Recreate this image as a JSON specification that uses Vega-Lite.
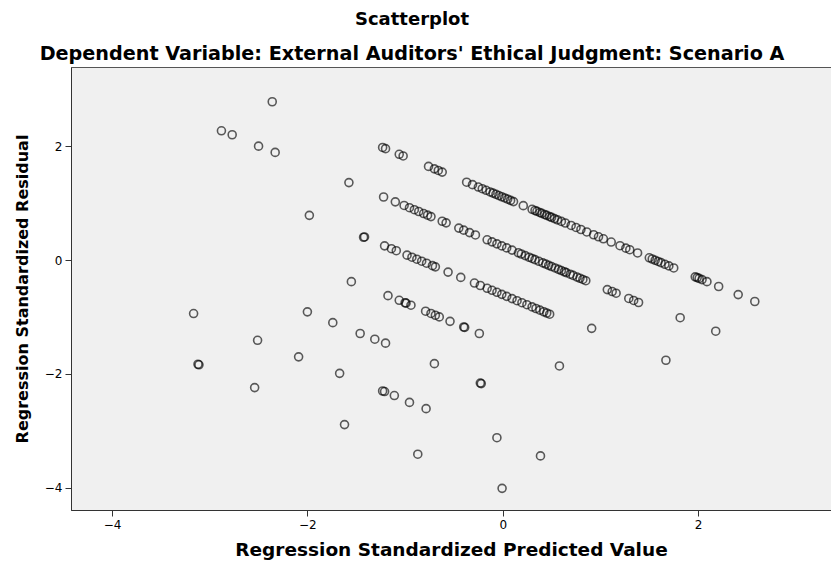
{
  "$schema": "https://vega.github.io/schema/vega-lite/v6.json",
  "width": 760,
  "height": 443,
  "autosize": {"type": "none"},
  "padding": {"left": 71, "top": 67, "right": 0, "bottom": 59},
  "background": "white",
  "title": {
    "text": "Scatterplot",
    "subtitle": "Dependent Variable: External Auditors' Ethical Judgment: Scenario A",
    "font": "DejaVu Sans",
    "fontSize": 18,
    "fontWeight": "bold",
    "color": "#000000",
    "subtitleFont": "DejaVu Sans",
    "subtitleFontSize": 19.2,
    "subtitleFontWeight": "bold",
    "subtitleColor": "#000000",
    "subtitlePadding": 16,
    "offset": 3,
    "anchor": "middle",
    "dx": -39
  },
  "config": {
    "view": {"fill": "#f0f0f0", "stroke": "#555555", "strokeWidth": 1},
    "axis": {
      "labelFont": "DejaVu Sans",
      "labelFontSize": 12,
      "labelColor": "#000000",
      "titleFont": "DejaVu Sans",
      "titleFontWeight": "bold",
      "titleColor": "#000000",
      "domainColor": "#333333",
      "tickColor": "#333333",
      "tickSize": 6,
      "grid": false
    }
  },
  "data": {
    "values": [
      {"x": -2.36, "y": 2.78}, {"x": -1.23, "y": 1.977}, {"x": -1.2, "y": 1.956}, {"x": -1.06, "y": 1.857}, {"x": -1.02, "y": 1.828},
      {"x": -0.76, "y": 1.644}, {"x": -0.7, "y": 1.601}, {"x": -0.66, "y": 1.573}, {"x": -0.62, "y": 1.544},
      {"x": -0.37, "y": 1.367}, {"x": -0.31, "y": 1.324}, {"x": -0.25, "y": 1.282}, {"x": -0.21, "y": 1.253}, {"x": -0.17, "y": 1.225},
      {"x": -0.13, "y": 1.196}, {"x": -0.1, "y": 1.175}, {"x": -0.07, "y": 1.154}, {"x": -0.04, "y": 1.132}, {"x": -0.01, "y": 1.111},
      {"x": 0.02, "y": 1.09}, {"x": 0.05, "y": 1.069}, {"x": 0.08, "y": 1.047}, {"x": 0.11, "y": 1.026}, {"x": 0.21, "y": 0.955},
      {"x": 0.3, "y": 0.891}, {"x": 0.33, "y": 0.87}, {"x": 0.35, "y": 0.856}, {"x": 0.38, "y": 0.834}, {"x": 0.4, "y": 0.82},
      {"x": 0.43, "y": 0.799}, {"x": 0.45, "y": 0.785}, {"x": 0.48, "y": 0.763}, {"x": 0.5, "y": 0.749}, {"x": 0.53, "y": 0.728},
      {"x": 0.56, "y": 0.706}, {"x": 0.6, "y": 0.678}, {"x": 0.64, "y": 0.65}, {"x": 0.7, "y": 0.607}, {"x": 0.75, "y": 0.572},
      {"x": 0.8, "y": 0.536}, {"x": 0.86, "y": 0.493}, {"x": 0.93, "y": 0.444}, {"x": 0.98, "y": 0.408}, {"x": 1.03, "y": 0.373},
      {"x": 1.11, "y": 0.316}, {"x": 1.2, "y": 0.252}, {"x": 1.26, "y": 0.209}, {"x": 1.3, "y": 0.181}, {"x": 1.38, "y": 0.124},
      {"x": 1.5, "y": 0.039}, {"x": 1.53, "y": 0.018}, {"x": 1.56, "y": -0.004}, {"x": 1.59, "y": -0.025}, {"x": 1.62, "y": -0.046},
      {"x": 1.66, "y": -0.075}, {"x": 1.7, "y": -0.103}, {"x": 1.75, "y": -0.139}, {"x": 1.97, "y": -0.295}, {"x": 1.99, "y": -0.309},
      {"x": 2.01, "y": -0.323}, {"x": 2.04, "y": -0.344}, {"x": 2.09, "y": -0.38}, {"x": 2.21, "y": -0.465}, {"x": 2.41, "y": -0.607},
      {"x": 2.58, "y": -0.728},

      {"x": -2.88, "y": 2.27}, {"x": -2.77, "y": 2.2}, {"x": -2.5, "y": 2.0}, {"x": -2.33, "y": 1.89}, {"x": -1.575, "y": 1.36},
      {"x": -1.22, "y": 1.107}, {"x": -1.1, "y": 1.022}, {"x": -1.01, "y": 0.958}, {"x": -0.955, "y": 0.919}, {"x": -0.905, "y": 0.884},
      {"x": -0.86, "y": 0.852}, {"x": -0.81, "y": 0.816}, {"x": -0.77, "y": 0.788}, {"x": -0.735, "y": 0.763}, {"x": -0.62, "y": 0.681},
      {"x": -0.58, "y": 0.653}, {"x": -0.45, "y": 0.561}, {"x": -0.4, "y": 0.525}, {"x": -0.34, "y": 0.482}, {"x": -0.28, "y": 0.44},
      {"x": -0.16, "y": 0.355}, {"x": -0.11, "y": 0.319}, {"x": -0.06, "y": 0.284}, {"x": -0.01, "y": 0.248}, {"x": 0.04, "y": 0.213},
      {"x": 0.095, "y": 0.174}, {"x": 0.16, "y": 0.127}, {"x": 0.19, "y": 0.106}, {"x": 0.23, "y": 0.078}, {"x": 0.27, "y": 0.049},
      {"x": 0.3, "y": 0.028}, {"x": 0.33, "y": 0.007}, {"x": 0.37, "y": -0.022}, {"x": 0.41, "y": -0.05}, {"x": 0.44, "y": -0.071},
      {"x": 0.47, "y": -0.093}, {"x": 0.5, "y": -0.114}, {"x": 0.535, "y": -0.139}, {"x": 0.57, "y": -0.164}, {"x": 0.6, "y": -0.185},
      {"x": 0.63, "y": -0.206}, {"x": 0.65, "y": -0.221}, {"x": 0.69, "y": -0.249}, {"x": 0.72, "y": -0.27}, {"x": 0.76, "y": -0.299},
      {"x": 0.79, "y": -0.32}, {"x": 0.82, "y": -0.341}, {"x": 0.85, "y": -0.363}, {"x": 1.07, "y": -0.519}, {"x": 1.12, "y": -0.554},
      {"x": 1.16, "y": -0.583}, {"x": 1.29, "y": -0.675}, {"x": 1.34, "y": -0.71}, {"x": 1.39, "y": -0.746},
      {"x": 1.816, "y": -1.013}, {"x": 2.18, "y": -1.25},

      {"x": -1.98, "y": 0.785}, {"x": -1.425, "y": 0.4}, {"x": -1.415, "y": 0.405},
      {"x": -1.21, "y": 0.249}, {"x": -1.14, "y": 0.199}, {"x": -1.09, "y": 0.164}, {"x": -0.98, "y": 0.086}, {"x": -0.93, "y": 0.05},
      {"x": -0.88, "y": 0.015}, {"x": -0.83, "y": -0.021}, {"x": -0.78, "y": -0.056}, {"x": -0.72, "y": -0.099}, {"x": -0.69, "y": -0.12},
      {"x": -0.56, "y": -0.212}, {"x": -0.43, "y": -0.305}, {"x": -0.29, "y": -0.404}, {"x": -0.23, "y": -0.447}, {"x": -0.16, "y": -0.496},
      {"x": -0.11, "y": -0.532}, {"x": -0.06, "y": -0.567}, {"x": -0.01, "y": -0.603}, {"x": 0.04, "y": -0.638}, {"x": 0.095, "y": -0.677},
      {"x": 0.146, "y": -0.714}, {"x": 0.196, "y": -0.749}, {"x": 0.247, "y": -0.785}, {"x": 0.3, "y": -0.823}, {"x": 0.34, "y": -0.851},
      {"x": 0.38, "y": -0.88}, {"x": 0.42, "y": -0.908}, {"x": 0.45, "y": -0.93}, {"x": 0.48, "y": -0.951},
      {"x": 0.91, "y": -1.2}, {"x": 1.67, "y": -1.76},

      {"x": -1.55, "y": -0.38}, {"x": -1.175, "y": -0.626}, {"x": -1.06, "y": -0.707}, {"x": -1.0, "y": -0.75}, {"x": -0.99, "y": -0.757},
      {"x": -0.94, "y": -0.793}, {"x": -0.79, "y": -0.899}, {"x": -0.735, "y": -0.938}, {"x": -0.69, "y": -0.97}, {"x": -0.65, "y": -0.999},
      {"x": -0.54, "y": -1.077}, {"x": -0.4, "y": -1.176}, {"x": -0.39, "y": -1.183}, {"x": -0.24, "y": -1.29}, {"x": 0.58, "y": -1.86},

      {"x": -2.0, "y": -0.91}, {"x": -1.74, "y": -1.1}, {"x": -1.46, "y": -1.29}, {"x": -1.31, "y": -1.39}, {"x": -1.2, "y": -1.46},
      {"x": -0.7, "y": -1.82}, {"x": -0.23, "y": -2.16}, {"x": -0.22, "y": -2.17},

      {"x": -3.165, "y": -0.94}, {"x": -2.51, "y": -1.41}, {"x": -2.09, "y": -1.7}, {"x": -1.67, "y": -1.99}, {"x": -1.23, "y": -2.3},
      {"x": -1.21, "y": -2.31}, {"x": -1.11, "y": -2.38}, {"x": -0.955, "y": -2.5}, {"x": -0.785, "y": -2.61}, {"x": -0.06, "y": -3.12},
      {"x": 0.386, "y": -3.44},

      {"x": -3.12, "y": -1.83}, {"x": -3.11, "y": -1.84}, {"x": -2.54, "y": -2.24}, {"x": -1.62, "y": -2.89}, {"x": -0.87, "y": -3.41},
      {"x": -0.007, "y": -4.01}
    ]
  },
  "mark": {"type": "point", "shape": "circle", "filled": false, "size": 64, "stroke": "#000000", "strokeWidth": 1.6, "strokeOpacity": 0.9, "clip": true},
  "encoding": {
    "x": {
      "field": "x", "type": "quantitative",
      "scale": {"domain": [-4.42, 3.36], "nice": false, "zero": false},
      "axis": {"values": [-4, -2, 0, 2], "title": "Regression Standardized Predicted Value", "titleFontSize": 18.5, "titlePadding": 10, "labelPadding": 3}
    },
    "y": {
      "field": "y", "type": "quantitative",
      "scale": {"domain": [-4.39, 3.39], "nice": false, "zero": false},
      "axis": {"values": [-4, -2, 0, 2], "title": "Regression Standardized Residual", "titleFontSize": 16, "titlePadding": 14, "labelPadding": 3}
    }
  }
}
